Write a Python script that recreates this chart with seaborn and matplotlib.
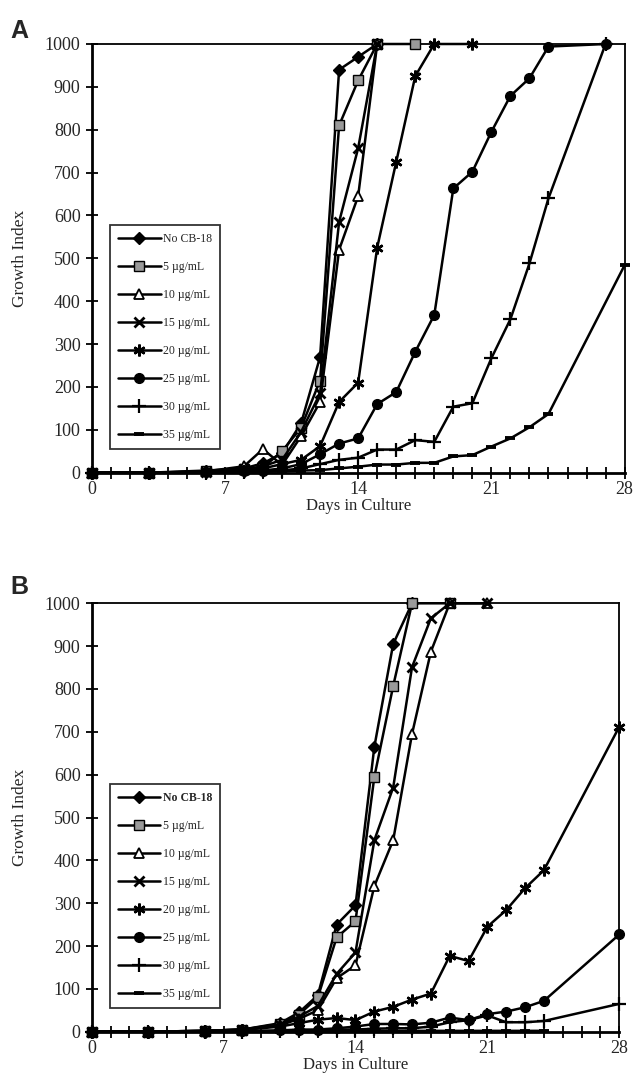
import matplotlib
matplotlib.use("Agg")
import matplotlib.pyplot as plt
import seaborn as sns
import numpy as np

# ---------------- data ----------------
labels = ["No CB-18", "5 \u00b5g/mL", "10 \u00b5g/mL", "15 \u00b5g/mL",
          "20 \u00b5g/mL", "25 \u00b5g/mL", "30 \u00b5g/mL", "35 \u00b5g/mL"]
x_tick_labels = [0, 7, 14, 21, 28]
y_ticks = list(range(0, 1001, 100))

# Panel A
a_days_nocb = [0, 3, 6, 8, 9, 10, 11, 12, 13, 14, 15]
a_nocb = [0, 0, 5, 10, 22, 45, 115, 270, 940, 970, 1000]
a_days_5 = [0, 3, 6, 8, 9, 10, 11, 12, 13, 14, 15, 17]
a_5 = [0, 0, 3, 8, 12, 50, 105, 215, 810, 915, 1000, 1000]
a_days_10 = [0, 3, 6, 8, 9, 10, 11, 12, 13, 14, 15]
a_10 = [0, 0, 3, 15, 55, 18, 85, 165, 520, 645, 1000]
a_days_15 = [0, 3, 6, 8, 9, 10, 11, 12, 13, 14, 15]
a_15 = [0, 0, 2, 8, 15, 30, 95, 185, 585, 757, 1000]
a_days_20 = [0, 3, 6, 8, 9, 10, 11, 12, 13, 14, 15, 16, 17, 18, 20]
a_20 = [0, 0, 2, 5, 10, 20, 30, 62, 165, 210, 525, 725, 925, 1000, 1000]
a_days_25 = [0, 3, 6, 8, 9, 10, 11, 12, 13, 14, 15, 16, 17, 18, 19, 20, 21, 22, 23, 24, 27]
a_25 = [0, 0, 2, 3, 5, 10, 20, 43, 68, 80, 160, 188, 282, 368, 663, 702, 795, 879, 920, 994, 1000]
a_days_30 = [0, 3, 6, 8, 9, 10, 11, 12, 13, 14, 15, 16, 17, 18, 19, 20, 21, 22, 23, 24, 27]
a_30 = [0, 0, 0, 2, 3, 5, 10, 20, 30, 35, 54, 54, 76, 72, 154, 162, 267, 358, 488, 640, 1000]
a_days_35 = [0, 3, 6, 8, 9, 10, 11, 12, 13, 14, 15, 16, 17, 18, 19, 20, 21, 22, 23, 24, 28]
a_35 = [0, 0, 0, 0, 2, 3, 5, 6, 10, 14, 19, 19, 23, 23, 38, 41, 61, 80, 106, 137, 484]

# Panel B
b_days_nocb = [0, 3, 6, 8, 10, 11, 12, 13, 14, 15, 16, 17]
b_nocb = [0, 0, 2, 5, 20, 45, 85, 250, 295, 665, 905, 1000]
b_days_5 = [0, 3, 6, 8, 10, 11, 12, 13, 14, 15, 16, 17, 19]
b_5 = [0, 0, 2, 5, 18, 40, 80, 220, 258, 595, 807, 1000, 1000]
b_days_10 = [0, 3, 6, 8, 10, 11, 12, 13, 14, 15, 16, 17, 18, 19, 21]
b_10 = [0, 0, 2, 5, 15, 30, 50, 125, 155, 340, 447, 695, 887, 1000, 1000]
b_days_15 = [0, 3, 6, 8, 10, 11, 12, 13, 14, 15, 16, 17, 18, 19, 21]
b_15 = [0, 0, 2, 5, 15, 35, 60, 135, 185, 447, 570, 851, 965, 1000, 1000]
b_days_20 = [0, 3, 6, 8, 10, 11, 12, 13, 14, 15, 16, 17, 18, 19, 20, 21, 22, 23, 24, 28]
b_20 = [0, 0, 0, 4, 12, 20, 28, 32, 27, 47, 58, 75, 89, 177, 165, 245, 284, 335, 377, 712]
b_days_25 = [0, 3, 6, 8, 10, 11, 12, 13, 14, 15, 16, 17, 18, 19, 20, 21, 22, 23, 24, 28]
b_25 = [0, 0, 0, 2, 3, 5, 5, 8, 12, 18, 18, 17, 21, 33, 27, 41, 47, 57, 72, 227]
b_days_30 = [0, 3, 6, 8, 10, 11, 12, 13, 14, 15, 16, 17, 18, 19, 20, 21, 22, 23, 24, 28]
b_30 = [0, 0, 0, 0, 2, 3, 3, 5, 5, 7, 8, 8, 12, 22, 27, 38, 22, 22, 25, 65]
b_days_35 = [0, 3, 6, 8, 10, 11, 12, 13, 14, 15, 16, 17, 18, 19, 20, 21, 22, 23, 24]
b_35 = [0, 0, 0, 0, 0, 1, 1, 2, 2, 2, 2, 2, 2, 2, 2, 2, 2, 2, 2]

panel_a = [(a_days_nocb, a_nocb), (a_days_5, a_5), (a_days_10, a_10), (a_days_15, a_15),
           (a_days_20, a_20), (a_days_25, a_25), (a_days_30, a_30), (a_days_35, a_35)]
panel_b = [(b_days_nocb, b_nocb), (b_days_5, b_5), (b_days_10, b_10), (b_days_15, b_15),
           (b_days_20, b_20), (b_days_25, b_25), (b_days_30, b_30), (b_days_35, b_35)]

# marker styles
markers = ["D", "s", "^", "x", (6, 2, 0), "o", "+", "_"]
face = ["black", "#9a9a9a", "white", "black", "black", "black", "black", "black"]
msize = [6.5, 6.5, 7, 7.5, 8.5, 7, 10, 7]
medge = [1.0, 1.0, 1.3, 2.0, 1.8, 1.0, 1.6, 2.8]

# ---------------- style ----------------
sns.set_style("ticks")
plt.rcParams["font.family"] = ["Liberation Serif", "DejaVu Serif"]

W, H = 634, 1087
fig = plt.figure(figsize=(W / 100, H / 100), dpi=100)

axA = fig.add_axes([91.7 / W, 1 - 472.7 / H, (624.6 - 91.7) / W, (472.7 - 44) / H])
axB = fig.add_axes([91.7 / W, 1 - 1031.7 / H, (619.3 - 91.7) / W, (1031.7 - 603.3) / H])


def draw(ax, panel, letter, letter_xy, bold_first):
    for i, (d, v) in enumerate(panel):
        sns.lineplot(x=d, y=v, ax=ax, color="black", linewidth=1.8,
                     marker=markers[i], markersize=msize[i],
                     markerfacecolor=face[i], markeredgecolor="black",
                     markeredgewidth=medge[i], label=labels[i],
                     sort=False, estimator=None, clip_on=False, zorder=3 + i * 0.01)
    ax.set_xlim(0, 28)
    ax.set_ylim(0, 1000)
    ax.set_yticks(y_ticks)
    ax.set_yticklabels([str(t) for t in y_ticks], fontsize=13)
    ax.set_xticks(x_tick_labels)
    ax.set_xticklabels([str(t) for t in x_tick_labels], fontsize=13)
    ax.set_xticks(np.arange(0, 29, 1), minor=True)
    ax.tick_params(axis="both", which="both", direction="inout", length=8,
                   width=1.3, color="black", pad=2)
    ax.tick_params(axis="y", pad=4)
    for s in ax.spines.values():
        s.set_visible(True)
        s.set_color("black")
        s.set_linewidth(1.3)
    ax.spines["left"].set_linewidth(2.0)
    ax.spines["bottom"].set_linewidth(2.0)
    ax.set_xlabel("Days in Culture", fontsize=12, labelpad=0)
    ax.set_ylabel("Growth Index", fontsize=12.5, labelpad=12)
    leg = ax.legend(loc="lower left", bbox_to_anchor=(0.034, 0.055),
                    borderaxespad=0, frameon=True, fancybox=False,
                    edgecolor="black", fontsize=8.5, labelspacing=1.35,
                    handlelength=3.6, handletextpad=0.2, borderpad=0.7)
    leg.get_frame().set_linewidth(1.3)
    if bold_first:
        leg.get_texts()[0].set_fontweight("bold")
    fig.text(letter_xy[0] / W, 1 - letter_xy[1] / H, letter,
             fontsize=18, fontweight="bold", family="Liberation Sans",
             ha="left", va="baseline")


draw(axA, panel_a, "A", (10, 38), False)
draw(axB, panel_b, "B", (10, 594), True)

fig.savefig("out.png", dpi=100)
